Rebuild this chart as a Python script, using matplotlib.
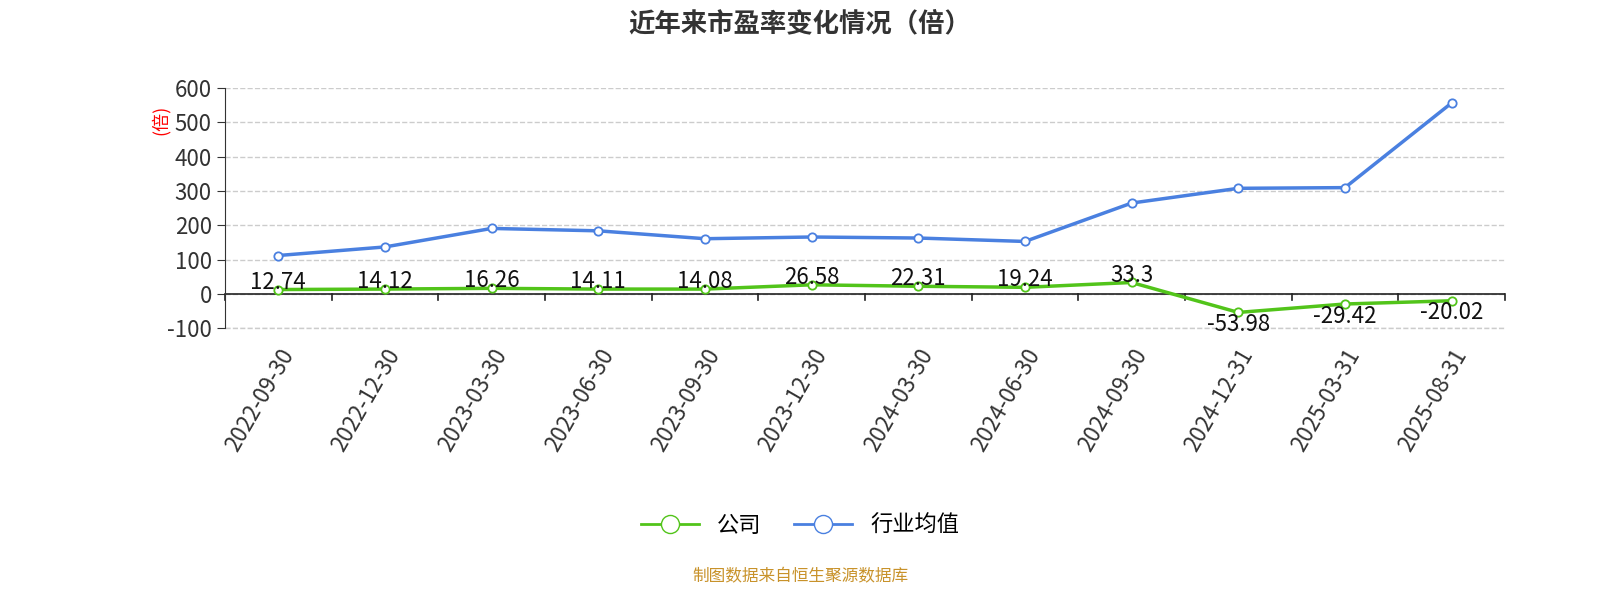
import matplotlib
matplotlib.use("Agg")
import matplotlib.pyplot as plt
from matplotlib.lines import Line2D

plt.rcParams['font.family'] = ['Noto Sans CJK SC', 'DejaVu Sans']
plt.rcParams['axes.unicode_minus'] = False

dates = ["2022-09-30","2022-12-30","2023-03-30","2023-06-30","2023-09-30","2023-12-30",
         "2024-03-30","2024-06-30","2024-09-30","2024-12-31","2025-03-31","2025-08-31"]
company = [12.74,14.12,16.26,14.11,14.08,26.58,22.31,19.24,33.3,-53.98,-29.42,-20.02]
industry = [112,137,191,184,161,166,163,153,265,308,310,557]
yticks = [-100,0,100,200,300,400,500,600]

green = "#52c41a"
blue = "#4a80e0"

fig = plt.figure(figsize=(16,6), dpi=100)
ax = fig.add_axes([0.1406,0.453,0.8,0.4])
x = list(range(len(dates)))
ax.plot(x, industry, color=blue, lw=2.5, marker='o', ms=6, mfc='white', mec=blue, mew=1.3, zorder=3)
ax.plot(x, company, color=green, lw=2.5, marker='o', ms=6, mfc='white', mec=green, mew=1.3, zorder=3)
for xi, v in zip(x, company):
    y = v - 2 if v < 0 else v - 12
    ax.text(xi, y, f"{v:g}", ha='center', va='top' if v < 0 else 'bottom', fontsize=16, color='#111', zorder=4)

ax.set_xlim(-0.5, len(dates)-0.5)
ax.set_ylim(-100, 600)
ax.set_yticks(yticks)
ax.tick_params(axis='y', labelsize=16, colors='#333', length=6)
for s in ['top','right','bottom']:
    ax.spines[s].set_visible(False)
ax.spines['left'].set_color('#333')
ax.grid(axis='y', ls='--', color='#ccc', lw=1)
ax.axhline(-100, color='#ccc', ls='--', lw=1, clip_on=False)
ax.axhline(0, color='#222', lw=1.2, zorder=2)
for b in range(len(dates)+1):
    ax.plot([b-0.5, b-0.5], [0, -18], color='#222', lw=1.2, clip_on=False)
ax.set_xticks(x)
ax.set_xticklabels(dates, rotation=60, ha='right', rotation_mode='anchor', fontsize=16, color='#333')
ax.tick_params(axis='x', length=0, pad=12)

fig.text(0.1, 0.8, "(倍)", color='red', rotation=90, fontsize=13, ha='center', va='center')
fig.text(0.5, 0.96, "近年来市盈率变化情况（倍）", ha='center', va='center', fontsize=19, fontweight='bold', color='#333')

handles = [Line2D([0],[0], color=green, lw=2, marker='o', ms=13, mfc='white', mec=green),
           Line2D([0],[0], color=blue, lw=2, marker='o', ms=13, mfc='white', mec=blue)]
fig.legend(handles, ["公司","行业均值"], loc='center', bbox_to_anchor=(0.5,0.125), ncol=2,
           frameon=False, fontsize=16, handlelength=2.6, columnspacing=1.5)
fig.text(0.5, 0.038, "制图数据来自恒生聚源数据库", ha='center', va='center', fontsize=12, color='#c8922a')
fig.savefig("out.png", dpi=100)
